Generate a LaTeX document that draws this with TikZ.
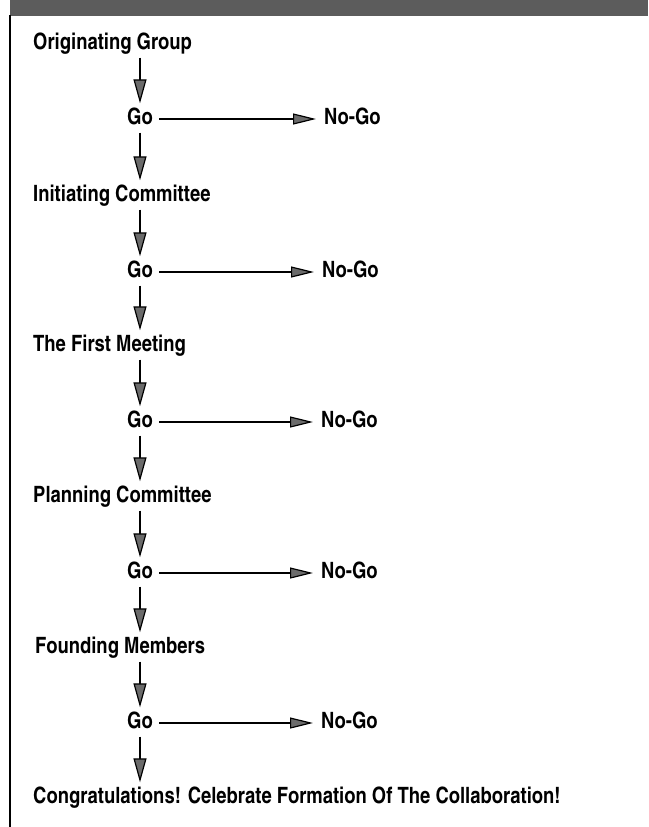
\documentclass[tikz,border=0pt]{standalone}
\usepackage{fontspec}
\setmainfont{texgyreheroscn}[Extension=.otf, UprightFont=*-regular, BoldFont=*-bold]
\usepackage{tikz}
\usetikzlibrary{arrows.meta,positioning}
\definecolor{bandgray}{gray}{0.36}
\definecolor{tipgray}{gray}{0.42}

\begin{document}
\begin{tikzpicture}[x=1pt, y=-1pt,
    stage/.style={anchor=west, inner sep=0pt, text height=15pt, text depth=4pt, font=\fontsize{22.5}{24}\selectfont\bfseries},
    decision/.style={stage, anchor=center},
    down/.style={-{Triangle[length=24pt, width=13pt, fill=tipgray]}, line width=1.2pt, shorten <=4pt, shorten >=6pt},
    nogo/.style={-{Triangle[length=23pt, width=11pt, fill=tipgray]}, line width=1.2pt, shorten <=6pt, shorten >=8pt}
]
    \useasboundingbox (0,0) rectangle (648,827);
    % header band and left rule
    \fill[bandgray] (10,0) rectangle (648,16);
    \draw[line width=1.6pt] (10,15) -- (10,827);

    \node[stage] (orig) at (33,44) {Originating Group};
    \node[decision] (go1) at (140,119) {Go};
    \node[stage] (nogo1) at (324,119) {No-Go};
    \node[stage] (init) at (33,196) {Initiating Committee};
    \node[decision] (go2) at (140,272) {Go};
    \node[stage] (nogo2) at (322,272) {No-Go};
    \node[stage] (meet) at (33,346) {The First Meeting};
    \node[decision] (go3) at (140,422) {Go};
    \node[stage] (nogo3) at (321,422) {No-Go};
    \node[stage] (plan) at (33,497) {Planning Committee};
    \node[decision] (go4) at (140,573) {Go};
    \node[stage] (nogo4) at (321,573) {No-Go};
    \node[stage] (found) at (35,648) {Founding Members};
    \node[decision] (go5) at (140,723) {Go};
    \node[stage] (nogo5) at (321,723) {No-Go};
    \node[stage] (congrats) at (33,798) {Congratulations! Celebrate Formation Of The Collaboration!};

    \draw[down] (orig.south -| go1.north) -- (go1.north);
    \draw[down] (go1.south) -- (go1.south |- init.north);
    \draw[down] (init.south -| go2.north) -- (go2.north);
    \draw[down] (go2.south) -- (go2.south |- meet.north);
    \draw[down] (meet.south -| go3.north) -- (go3.north);
    \draw[down] (go3.south) -- (go3.south |- plan.north);
    \draw[down] (plan.south -| go4.north) -- (go4.north);
    \draw[down] (go4.south) -- (go4.south |- found.north);
    \draw[down] (found.south -| go5.north) -- (go5.north);
    \draw[down] (go5.south) -- (go5.south |- congrats.north);

    \draw[nogo] (go1) -- (nogo1);
    \draw[nogo] (go2) -- (nogo2);
    \draw[nogo] (go3) -- (nogo3);
    \draw[nogo] (go4) -- (nogo4);
    \draw[nogo] (go5) -- (nogo5);
\end{tikzpicture}
\end{document}
